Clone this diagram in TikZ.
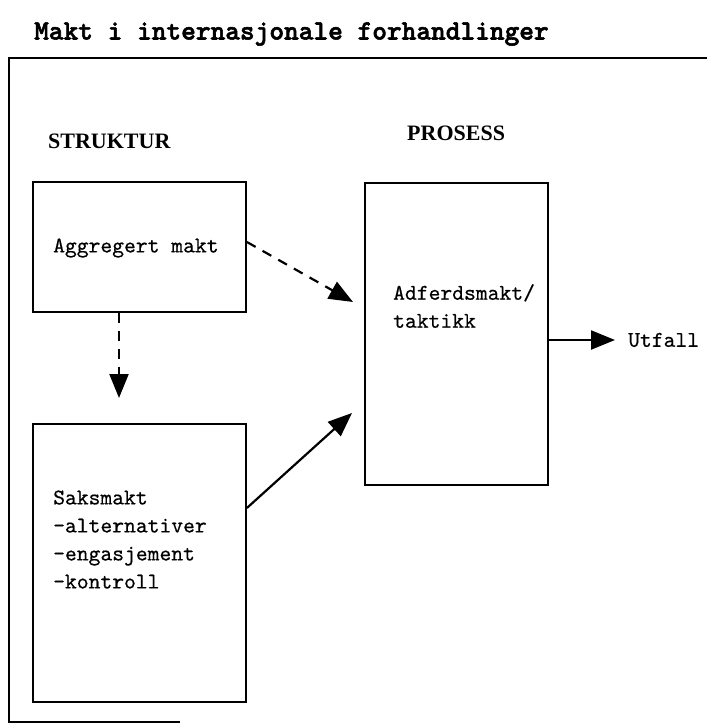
\documentclass[tikz,border=0pt]{standalone}
\usepackage{fontspec}
\setmainfont{Liberation Serif}
\newfontfamily\tittelfont{lmmonolt10-bold.otf}[FakeBold=2]
\newfontfamily\boksfont{lmmono10-regular.otf}[FakeBold=0.5]
\usetikzlibrary{positioning,calc,arrows.meta}

\tikzset{
  boks/.style={draw, line width=1.8pt, inner sep=0pt},
  tekst/.style={font=\fontsize{22.5}{28}\selectfont\boksfont, anchor=west, align=left, inner sep=0pt},
  overskrift/.style={font=\fontsize{22}{26}\selectfont\bfseries, anchor=west, inner sep=0pt},
  pil/.style={line width=2.2pt, -{Triangle[length=24pt,width=19pt]}},
  stiplet/.style={dash pattern=on 10pt off 8pt},
}

\begin{document}
\begin{tikzpicture}[x=1pt,y=-1pt]
    \useasboundingbox (0,0) rectangle (707,725);

    % Title and frame
    \node[font=\fontsize{28}{30}\selectfont\tittelfont, anchor=west, inner sep=0pt] (tittel) at (34,34) {Makt i internasjonale forhandlinger};
    \draw[line width=1.5pt] (707,58) -- (9,58) -- (9,722) -- (180,722);

    % Headings
    \node[overskrift] (struktur) at (48,141) {STRUKTUR};
    \node[overskrift] (prosess) at (407,133) {PROSESS};

    % Boxes
    \node[boks, minimum width=213pt, minimum height=130pt] (agg) at (139.5,247) {};
    \node[boks, minimum width=213pt, minimum height=278pt] (saks) at (139.5,563) {};
    \node[boks, minimum width=183pt, minimum height=302pt] (adf) at (456.5,334) {};

    % Texts
    \node[tekst] (aggtekst) at (53,248) {Aggregert makt};
    \node[tekst] (sakstekst) at (53,539.5) {Saksmakt\\-alternativer\\-engasjement\\-kontroll};
    \node[tekst] (adftekst) at (393,306) {Adferdsmakt/\\taktikk};
    \node[tekst] (utfall) at (628,340) {Utfall};

    % Arrows
    \coordinate (p1) at (353,302);
    \coordinate (p2) at (119,398);
    \coordinate (p3) at (352,413);
    \draw[pil, stiplet] (agg.east |- 0,242) -- (p1);
    \draw[pil, stiplet] (119,0 |- agg.south) -- (p2);
    \draw[pil] (saks.east |- 0,508) -- (p3);
    \draw[pil] (adf.east |- 0,340) -- ([xshift=-13pt]utfall.west);
\end{tikzpicture}
\end{document}
